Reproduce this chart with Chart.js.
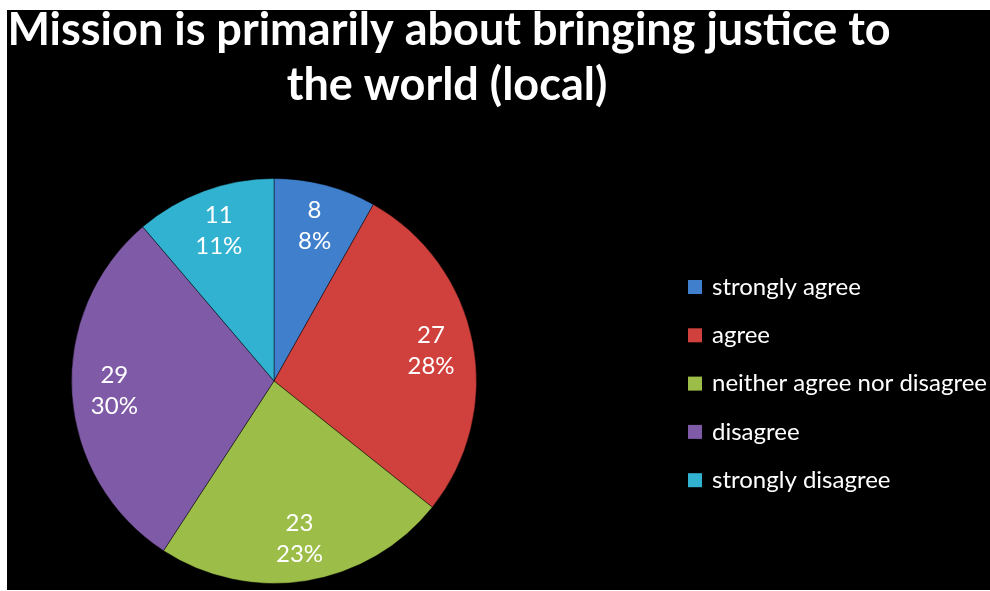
<!DOCTYPE html>
<html>
<head>
<meta charset="utf-8">
<script src="https://cdn.jsdelivr.net/npm/chart.js@4/dist/chart.umd.min.js"></script>
<style>
  html, body { margin: 0; padding: 0; background: #ffffff; }
  #wrap { position: absolute; left: 7px; top: 10px; width: 983px; height: 580px; background: #000000; }
  canvas { display: block; }
</style>
</head>
<body>
<div id="wrap"><canvas id="c" width="983" height="580"></canvas></div>
<script>
// Survey answers: "Mission is primarily about bringing justice to the world (local)"
const categories = ['strongly agree', 'agree', 'neither agree nor disagree', 'disagree', 'strongly disagree'];
const counts = [8, 27, 23, 29, 11];
const sliceColors = ['#3F7FCC', '#D0413D', '#9CBE48', '#7F5BA7', '#31B2D0'];
const titleLines = ['Mission is primarily about bringing justice to', 'the world (local)'];

const total = counts.reduce((a, b) => a + b, 0);

// Two-line bold heading
const titlePlugin = {
  id: 'heading',
  afterDraw(chart) {
    const ctx = chart.ctx;
    ctx.save();
    ctx.fillStyle = '#ffffff';
    ctx.textAlign = 'center';
    ctx.textBaseline = 'alphabetic';
    ctx.font = 'bold 45px Lato, "Open Sans", sans-serif';
    ctx.fillText(titleLines[0], 442, 35);
    ctx.fillText(titleLines[1], 440, 90);
    ctx.restore();
  }
};

// Count and percentage inside each slice
const sliceLabels = {
  id: 'sliceLabels',
  afterDatasetsDraw(chart) {
    const ctx = chart.ctx;
    const meta = chart.getDatasetMeta(0);
    ctx.save();
    ctx.fillStyle = '#ffffff';
    ctx.textAlign = 'center';
    ctx.textBaseline = 'middle';
    ctx.font = '24px Lato, "Open Sans", sans-serif';
    meta.data.forEach((arc, i) => {
      const p = arc.getProps(['x', 'y', 'startAngle', 'endAngle', 'outerRadius'], true);
      const mid = (p.startAngle + p.endAngle) / 2;
      const r = p.outerRadius * 0.79;
      const cx = p.x + Math.cos(mid) * r;
      const cy = p.y + Math.sin(mid) * r;
      const v = chart.data.datasets[0].data[i];
      ctx.fillText(String(v), cx, cy - 15.5);
      ctx.fillText(Math.round(v / total * 100) + '%', cx, cy + 15.5);
    });
    ctx.restore();
  }
};

// Legend list on the right
const sideLegend = {
  id: 'sideLegend',
  afterDraw(chart) {
    const ctx = chart.ctx;
    const ds = chart.data.datasets[0];
    ctx.save();
    ctx.textAlign = 'left';
    ctx.textBaseline = 'middle';
    ctx.font = '24px Lato, "Open Sans", sans-serif';
    chart.data.labels.forEach((lab, i) => {
      const y = 277 + i * 48.3;
      ctx.fillStyle = ds.backgroundColor[i];
      ctx.fillRect(681, y - 7, 14, 14);
      ctx.fillStyle = '#ffffff';
      ctx.fillText(lab, 705, y);
    });
    ctx.restore();
  }
};

new Chart(document.getElementById('c'), {
  type: 'pie',
  data: {
    labels: categories,
    datasets: [{
      data: counts,
      backgroundColor: sliceColors,
      borderColor: 'rgba(0,0,0,0.45)',
      borderWidth: 1
    }]
  },
  options: {
    responsive: false,
    animation: false,
    layout: { padding: { top: 168, bottom: 6, left: 64, right: 513 } },
    plugins: {
      legend: { display: false },
      title: { display: false },
      tooltip: { enabled: false }
    }
  },
  plugins: [titlePlugin, sliceLabels, sideLegend]
});
</script>
</body>
</html>
